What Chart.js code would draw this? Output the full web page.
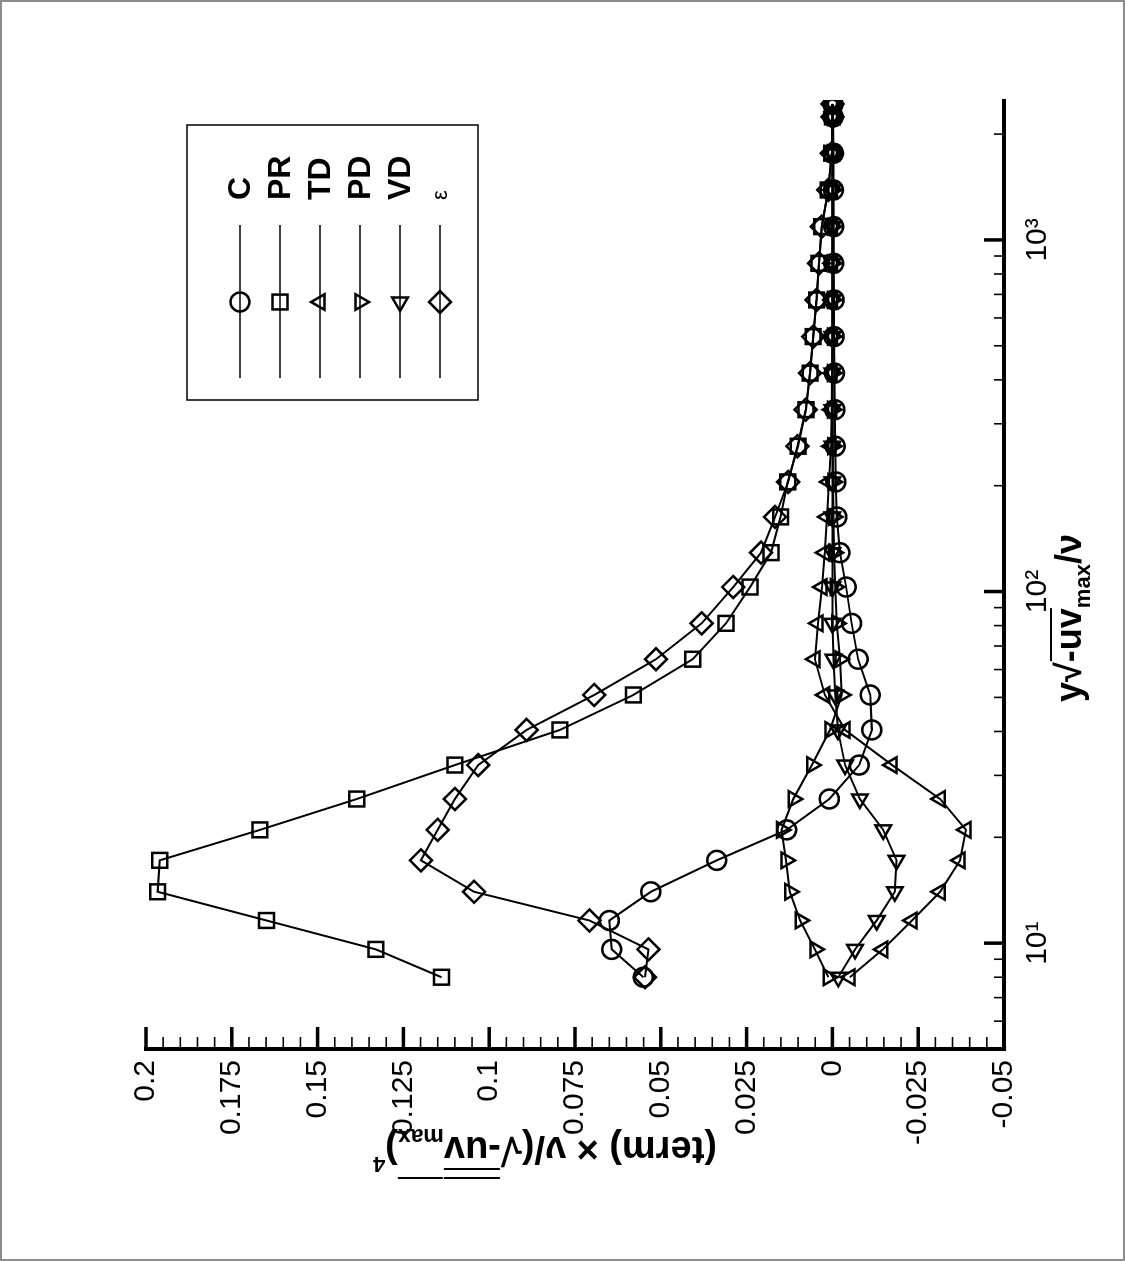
<!DOCTYPE html>
<html>
<head>
<meta charset="utf-8">
<script src="https://cdn.jsdelivr.net/npm/chart.js@4.4.1/dist/chart.umd.min.js"></script>
<style>
  html, body { margin: 0; padding: 0; background: #fff; }
  #page { position: relative; width: 1125px; height: 1261px; overflow: hidden; background: #fff; }
  #rot { position: absolute; left: -68px; top: 68px; width: 1261px; height: 1125px; transform: rotate(-90deg); transform-origin: 50% 50%; }
  #frame { position: absolute; left: 0; top: 0; width: 1125px; height: 1261px; box-sizing: border-box; border: 2px solid #8c8c8c; pointer-events: none; }
</style>
</head>
<body>
<div id="page">
  <div id="rot"><canvas id="termChart" width="1261" height="1125"></canvas></div>
  <div id="frame"></div>
</div>
<script>
// budget terms vs y sqrt(-uv_max)/nu, drawn sideways like the scanned figure

var xValues = [8.0, 9.6, 11.6, 14.0, 17.2, 21.0, 25.7, 32.1, 40.4, 50.8, 64.2, 81.2, 103, 129, 163, 205, 259, 329, 418, 531, 675, 858, 1091, 1387, 1764, 2238, 2436];

var cValues   = [0.0551, 0.0643, 0.0650, 0.0529, 0.0337, 0.0133, 0.0009, -0.0078, -0.0115, -0.0110, -0.0075, -0.0056, -0.0040, -0.0022, -0.0013, -0.0010, -0.0008, -0.0007, -0.0006, -0.0005, -0.0005, -0.0004, -0.0004, -0.0003, -0.0003, -0.0002, -0.0002];
var prValues  = [0.1139, 0.1330, 0.1649, 0.1966, 0.1960, 0.1668, 0.1386, 0.1100, 0.0794, 0.0580, 0.0407, 0.0310, 0.0240, 0.0179, 0.0151, 0.0130, 0.0100, 0.0077, 0.0065, 0.0056, 0.0046, 0.0039, 0.0031, 0.0012, 0.0002, 0.0000, 0.0000];
var tdValues  = [-0.0051, -0.0147, -0.0232, -0.0314, -0.0372, -0.0389, -0.0314, -0.0174, -0.0037, 0.0022, 0.0051, 0.0042, 0.0030, 0.0022, 0.0016, 0.0010, 0.0004, 0.0002, 0.0001, 0.0000, 0.0000, 0.0000, 0.0000, 0.0000, 0.0000, 0.0000, 0.0000];
var pdValues  = [0.0012, 0.0051, 0.0094, 0.0124, 0.0135, 0.0148, 0.0114, 0.0060, 0.0007, -0.0027, -0.0022, -0.0013, -0.0008, -0.0005, -0.0003, -0.0002, -0.0001, 0.0000, 0.0000, 0.0000, 0.0000, 0.0000, 0.0000, 0.0000, 0.0000, 0.0000, 0.0000];
var vdValues  = [-0.0017, -0.0066, -0.0129, -0.0182, -0.0187, -0.0148, -0.0080, -0.0037, -0.0016, -0.0008, -0.0003, 0.0000, 0.0000, 0.0000, 0.0000, 0.0000, 0.0000, 0.0000, 0.0000, 0.0000, 0.0000, 0.0000, 0.0000, 0.0000, 0.0000, 0.0000, 0.0000];
var epsValues = [0.0546, 0.0536, 0.0708, 0.1044, 0.1199, 0.1150, 0.1100, 0.1032, 0.0891, 0.0694, 0.0514, 0.0381, 0.0289, 0.0208, 0.0167, 0.0129, 0.0102, 0.0078, 0.0065, 0.0056, 0.0046, 0.0039, 0.0031, 0.0012, 0.0002, 0.0000, 0.0000];

var seriesNames = ['C', 'PR', 'TD', 'PD', 'VD', '\u03b5'];

var valueTicks = [-0.05, -0.025, 0, 0.025, 0.05, 0.075, 0.1, 0.125, 0.15, 0.175, 0.2];
var valueTickLabels = ['-0.05', '-0.025', '0', '0.025', '0.05', '0.075', '0.1', '0.125', '0.15', '0.175', '0.2'];
var decadeTicks = [10, 100, 1000];
var decadeTickLabels = ['10\u00b9', '10\u00b2', '10\u00b3'];

var FONT = '"Liberation Sans", Arial, Helvetica, sans-serif';

function toPoints(values) {
  var pts = [];
  for (var i = 0; i < xValues.length; i++) {
    pts.push({ x: xValues[i], y: values[i] });
  }
  return pts;
}

function makeDataset(label, values, style, radius, rotation) {
  return {
    label: label,
    data: toPoints(values),
    borderColor: '#000',
    borderWidth: 2,
    fill: false,
    tension: 0,
    pointStyle: style,
    pointRadius: radius,
    pointRotation: rotation || 0,
    pointBorderWidth: 2.5,
    pointBorderColor: '#000',
    pointBackgroundColor: 'rgba(0,0,0,0)'
  };
}

// draw a row of text pieces (sub/superscripts, bars above) centred on 0
function drawRuns(ctx, runs) {
  var total = 0;
  runs.forEach(function (r) {
    ctx.font = 'bold ' + r.size + 'px ' + FONT;
    r.w = ctx.measureText(r.text).width;
    total += r.w;
  });
  var x = -total / 2;
  runs.forEach(function (r) {
    var dy = r.dy || 0;
    ctx.font = 'bold ' + r.size + 'px ' + FONT;
    ctx.fillText(r.text, x, dy);
    (r.bars || []).forEach(function (by) {
      ctx.fillRect(x + 1, by, r.w - 1, 2);
    });
    x += r.w;
  });
}

var innerTicks = {
  id: 'innerTicks',
  afterDraw: function (chart) {
    var ctx = chart.ctx;
    var area = chart.chartArea;
    var xs = chart.scales.x;
    var ys = chart.scales.y;
    ctx.save();
    ctx.strokeStyle = '#000';

    for (var i = 0; i <= 50; i++) {
      var v = -0.05 + i * 0.005;
      var py = ys.getPixelForValue(v);
      var major = (i % 5 === 0);
      ctx.lineWidth = major ? 3.5 : 1.6;
      ctx.beginPath();
      ctx.moveTo(area.left, py);
      ctx.lineTo(area.left + (major ? 22 : 12), py);
      ctx.stroke();
    }

    for (var k = 0; k <= 3; k++) {
      for (var n = 1; n <= 9; n++) {
        var xv = n * Math.pow(10, k);
        if (xv < 5 || xv > 2500) continue;
        var px = xs.getPixelForValue(xv);
        var maj = (n === 1);
        ctx.lineWidth = maj ? 3.5 : 1.6;
        ctx.beginPath();
        ctx.moveTo(px, area.bottom);
        ctx.lineTo(px, area.bottom - (maj ? 20 : 10));
        ctx.stroke();
      }
    }
    ctx.restore();
  }
};

var axisTitles = {
  id: 'axisTitles',
  afterDraw: function (chart) {
    var ctx = chart.ctx;
    ctx.save();
    ctx.fillStyle = '#000';
    ctx.textAlign = 'left';
    ctx.textBaseline = 'alphabetic';

    ctx.save();
    ctx.translate(643, 1081);
    drawRuns(ctx, [
      { text: 'y', size: 36 },
      { text: '\u221a', size: 36 },
      { text: '-uv', size: 36, bars: [-31] },
      { text: 'max', size: 22, dy: 9 },
      { text: '/\u03bd', size: 36 }
    ]);
    ctx.restore();

    ctx.save();
    ctx.translate(124, 545);
    ctx.rotate(-Math.PI / 2);
    drawRuns(ctx, [
      { text: '(term) \u00d7 \u03bd/(', size: 38 },
      { text: '\u221a', size: 38 },
      { text: '-uv', size: 38, bars: [-33, -42] },
      { text: 'max', size: 23, dy: 8, bars: [-42] },
      { text: ')', size: 38 },
      { text: '4', size: 22, dy: -20 }
    ]);
    ctx.restore();
    ctx.restore();
  }
};

var boxLegend = {
  id: 'boxLegend',
  afterDraw: function (chart) {
    var ctx = chart.ctx;
    ctx.save();
    ctx.strokeStyle = '#000';
    ctx.lineWidth = 1.5;
    ctx.strokeRect(861, 187, 275, 291);
    chart.data.datasets.forEach(function (ds, i) {
      var y = 240 + i * 40;
      ctx.strokeStyle = '#000';
      ctx.lineWidth = 1.6;
      ctx.beginPath();
      ctx.moveTo(883, y);
      ctx.lineTo(1036, y);
      ctx.stroke();
      ctx.lineWidth = ds.pointBorderWidth;
      ctx.fillStyle = 'rgba(0,0,0,0)';
      Chart.helpers.drawPoint(ctx, {
        pointStyle: ds.pointStyle,
        rotation: ds.pointRotation,
        radius: ds.pointRadius,
        borderWidth: ds.pointBorderWidth
      }, 959, y);
      ctx.fillStyle = '#000';
      ctx.textBaseline = 'middle';
      ctx.textAlign = 'left';
      if (ds.label === '\u03b5') {
        ctx.font = '22px ' + FONT;
      } else {
        ctx.font = 'bold 32px ' + FONT;
      }
      ctx.fillText(ds.label, 1061, y + 1);
    });
    ctx.restore();
  }
};

var datasets = [
  makeDataset(seriesNames[0], cValues, 'circle', 9.5, 0),
  makeDataset(seriesNames[1], prValues, 'rect', 10.5, 0),
  makeDataset(seriesNames[2], tdValues, 'triangle', 9, 0),
  makeDataset(seriesNames[3], pdValues, 'triangle', 9, 180),
  makeDataset(seriesNames[4], vdValues, 'triangle', 9, 270),
  makeDataset(seriesNames[5], epsValues, 'rectRot', 11, 0)
];

var ctx = document.getElementById('termChart').getContext('2d');

new Chart(ctx, {
  type: 'line',
  data: { datasets: datasets },
  options: {
    responsive: false,
    animation: false,
    devicePixelRatio: 1,
    layout: { padding: { top: 146, right: 100, left: 0, bottom: 0 } },
    plugins: {
      legend: { display: false },
      tooltip: { enabled: false }
    },
    scales: {
      x: {
        type: 'logarithmic',
        position: 'bottom',
        min: 5,
        max: 2500,
        afterBuildTicks: function (scale) {
          scale.ticks = decadeTicks.map(function (v) { return { value: v }; });
        },
        afterFit: function (scale) { scale.height = 121; },
        grid: { display: false, drawTicks: false },
        border: { display: true, color: '#000', width: 4 },
        ticks: {
          padding: 16,
          color: '#000',
          maxRotation: 0,
          autoSkip: false,
          font: { family: FONT, size: 30 },
          callback: function (value) {
            var i = decadeTicks.indexOf(value);
            return i >= 0 ? decadeTickLabels[i] : '';
          }
        }
      },
      y: {
        type: 'linear',
        position: 'left',
        min: -0.05,
        max: 0.2,
        afterBuildTicks: function (scale) {
          scale.ticks = valueTicks.map(function (v) { return { value: v }; });
        },
        afterFit: function (scale) { scale.width = 212; },
        grid: { display: false, drawTicks: false },
        border: { display: true, color: '#000', width: 4 },
        ticks: {
          padding: 11,
          color: '#000',
          autoSkip: false,
          font: { family: FONT, size: 30 },
          callback: function (value) {
            for (var i = 0; i < valueTicks.length; i++) {
              if (Math.abs(valueTicks[i] - value) < 1e-9) return valueTickLabels[i];
            }
            return '';
          }
        }
      }
    }
  },
  plugins: [innerTicks, axisTitles, boxLegend]
});
</script>
</body>
</html>
